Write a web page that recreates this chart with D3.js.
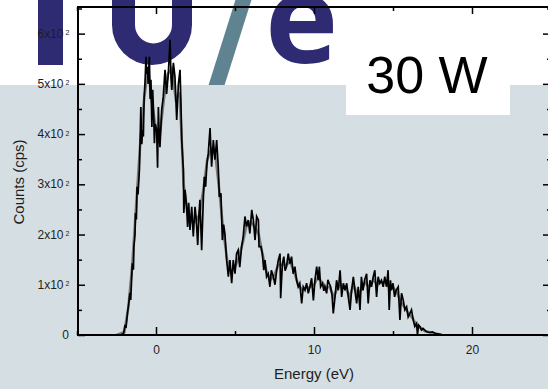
<!DOCTYPE html>
<html>
<head>
<meta charset="utf-8">
<script src="https://cdn.jsdelivr.net/npm/d3@7"></script>
<style>
    body { margin: 0; background: #fff; }
    text { font-family: "Liberation Sans", Arial, sans-serif; fill: #1e1e1e; }
</style>
</head>
<body>
<svg id="chart" width="548" height="389"></svg>
<script>
// measured spectrum (black trace)
var energy = [-2.5, -2.2, -2.05, -1.96, -1.9, -1.8, -1.72, -1.65, -1.6, -1.5, -1.43, -1.4, -1.33, -1.3, -1.24, -1.2, -1.14, -1.05,
    -0.99, -0.96, -0.9, -0.85, -0.8, -0.75, -0.7, -0.63, -0.6, -0.53, -0.5, -0.42, -0.37, -0.32, -0.26, -0.21, -0.15, -0.1, -0.05,
    0.04, 0.1, 0.15, 0.2, 0.25, 0.36, 0.46, 0.57, 0.67, 0.78, 0.89, 0.95, 1.0, 1.1, 1.2, 1.31, 1.42, 1.52, 1.58, 1.63, 1.73, 1.76,
    1.84, 1.94, 2.0, 2.07, 2.15, 2.26, 2.36, 2.47, 2.55, 2.64, 2.72, 2.78, 2.89, 3.0, 3.06, 3.14, 3.22, 3.31, 3.42, 3.52, 3.63,
    3.73, 3.84, 3.94, 4.01, 4.11, 4.2, 4.28, 4.36, 4.47, 4.58, 4.68, 4.79, 4.89, 5.0, 5.1, 5.2, 5.3, 5.42, 5.52, 5.63, 5.73, 5.84,
    5.94, 6.06, 6.16, 6.27, 6.37, 6.48, 6.52, 6.64, 6.73, 6.82, 6.9, 7.0, 7.1, 7.21, 7.3, 7.43, 7.53, 7.64, 7.74, 7.85, 7.89, 8.0,
    8.09, 8.17, 8.26, 8.37, 8.47, 8.58, 8.68, 8.79, 8.9, 9.0, 9.1, 9.22, 9.32, 9.43, 9.53, 9.64, 9.74, 9.85, 9.96, 10.06, 10.17,
    10.27, 10.34, 10.42, 10.54, 10.62, 10.69, 10.8, 10.88, 10.96, 11.05, 11.14, 11.22, 11.33, 11.43, 11.54, 11.65, 11.75, 11.86,
    11.96, 12.07, 12.17, 12.28, 12.38, 12.49, 12.59, 12.7, 12.8, 12.91, 13.0, 13.1, 13.2, 13.33, 13.43, 13.54, 13.64, 13.75,
    13.85, 13.96, 14.06, 14.16, 14.27, 14.38, 14.48, 14.59, 14.69, 14.76, 14.84, 14.9, 15.0, 15.1, 15.2, 15.33, 15.44, 15.54,
    15.65, 15.75, 15.86, 15.96, 16.07, 16.17, 16.28, 16.38, 16.49, 16.55, 16.62, 16.7, 16.8, 16.9, 17.1, 17.3, 17.5, 17.7, 18.1];
var counts = [0, 1, 3, 20, 14, 45, 64, 84, 70, 143, 130, 175, 200, 243, 230, 295, 280, 329,
    408, 454, 380, 408, 395, 474, 500, 554, 520, 534, 500, 554, 470, 508, 414, 488, 442, 382, 420,
    408, 333, 454, 400, 374, 448, 474, 528, 480, 520, 588, 510, 488, 542, 514, 428, 500, 528, 460, 388, 329, 243,
    289, 255, 215, 263, 209, 255, 196, 255, 230, 179, 240, 269, 169, 275, 315, 295, 340, 362, 412, 335, 388,
    349, 388, 335, 275, 282, 189, 220, 202, 149, 116, 149, 103, 149, 122, 162, 169, 135, 176, 196, 236, 216, 229,
    202, 249, 229, 189, 236, 229, 176, 176, 162, 129, 149, 116, 122, 96, 129, 116, 100, 129, 149, 162, 73, 142,
    156, 128, 136, 162, 142, 156, 122, 136, 109, 96, 103, 63, 96, 89, 103, 83, 96, 113, 69, 109, 136,
    109, 136, 96, 103, 88, 96, 83, 110, 103, 96, 80, 43, 76, 109, 89, 129, 76, 103,
    89, 103, 76, 50, 89, 116, 89, 63, 96, 50, 116, 89, 109, 122, 63, 109, 96, 116,
    129, 76, 116, 103, 109, 96, 116, 96, 129, 50, 109, 89, 103, 76, 89, 96, 30, 83,
    69, 50, 56, 36, 43, 50, 30, 17, 23, 0, 20, 17, 10, 13, 7, 5, 6, 3, 1];

// second (grey) trace
var energyGrey = [-2.5, -2.0, -1.75, -1.5, -1.25, -1.0, -0.75, -0.5, -0.25, 0, 0.25, 0.5, 0.75, 1.0, 1.25, 1.5, 1.75, 2.0,
    2.25, 2.5, 2.75, 3.0, 3.25, 3.5, 3.75, 4.0, 4.25, 4.5, 4.75, 5.0, 5.25, 5.5, 5.75, 6.0, 6.25, 6.5, 6.75, 7.0, 7.25, 7.5,
    7.75, 8.0, 8.25, 8.5, 8.75, 9.0, 9.25, 9.5, 9.75, 10.0, 10.25, 10.5, 10.75, 11.0, 11.25, 11.5, 11.75, 12.0, 12.25, 12.5,
    12.75, 13.0, 13.25, 13.5, 13.75, 14.0, 14.25, 14.5, 14.75, 15.0, 15.25, 15.5, 15.75, 16.0, 16.25, 16.5, 16.75, 17.0, 17.5, 18.0];
var countsGrey = [0, 6, 55, 140, 260, 380, 470, 530, 460, 410, 400, 470, 520, 530, 470, 480, 300, 240,
    225, 225, 240, 290, 350, 370, 360, 290, 210, 150, 125, 135, 155, 185, 220, 225, 215, 200, 160, 125, 110, 120,
    140, 140, 140, 145, 125, 100, 90, 95, 95, 100, 115, 105, 95, 95, 75, 95, 100, 95, 75, 100,
    80, 90, 105, 95, 110, 100, 105, 105, 95, 95, 85, 65, 55, 42, 33, 18, 14, 8, 4, 1];

var xMajor = [0, 10, 20],
    xMinor = [-5, 5, 15, 25];
var yMajor = [0, 100, 200, 300, 400, 500, 600],
    yMinor = [50, 150, 250, 350, 450, 550, 650],
    yLabels = ["0", "1x10", "2x10", "3x10", "4x10", "5x10", "6x10"];

var v = 548, h = 389;
var svg = d3.select("#chart");

// background: logo area on white, grey panel below
var logo = svg.append("g");
logo.append("rect").attr("x", 38).attr("y", -5).attr("width", 25).attr("height", 70).attr("fill", "#2e2b73");
logo.append("path")
    .attr("d", "M112,-5 V25 A40,40 0 0 0 192,25 V-5 H172 V25 A18.5,18.5 0 0 1 135,25 V-5 Z")
    .attr("fill", "#2e2b73");
logo.append("path")
    .attr("d", "M237,-5 L253,-5 L223,90 L207,90 Z")
    .attr("fill", "#5f8391");
logo.append("text")
    .attr("x", 265).attr("y", 63)
    .style("font-family", "'Open Sans', sans-serif")
    .style("font-weight", 700)
    .style("font-size", "124px")
    .style("fill", "#2e2b73")
    .text("e");

svg.append("rect").attr("x", 0).attr("y", 85).attr("width", v).attr("height", h - 85).attr("fill", "#d5dfe3");
svg.append("rect").attr("x", 346).attr("y", 80).attr("width", 164).attr("height", 35).attr("fill", "#fff");
svg.append("text")
    .attr("x", 427).attr("y", 93)
    .attr("text-anchor", "middle")
    .style("font-size", "52px")
    .style("fill", "#000")
    .text("30 W");

var m = {left: 78, right: 551, top: 7, bottom: 335};
var x = d3.scaleLinear().domain([-5, 25]).range([77, 551]),
    y = d3.scaleLinear().domain([0, 653]).range([m.bottom, m.top]);

function trace(xs, ys) {
    return xs.map(function (d, i) { return [d, ys[i]]; });
}
var line = d3.line()
    .x(function (d) { return x(d[0]); })
    .y(function (d) { return y(d[1]); });

svg.append("path")
    .datum(trace(energyGrey, countsGrey))
    .attr("d", line)
    .attr("fill", "none")
    .attr("stroke", "#7c7c7c")
    .attr("stroke-width", 2.6);

svg.append("path")
    .datum(trace(energy, counts))
    .attr("d", line)
    .attr("fill", "none")
    .attr("stroke", "#000")
    .attr("stroke-width", 1.7);

// axes, ticks pointing inward
function drawAxis(axis, pos, cls) {
    var g = svg.append("g")
        .attr("class", cls)
        .attr("transform", pos)
        .call(axis);
    g.select(".domain").remove();
    g.selectAll(".tick line").attr("stroke", "#000").attr("stroke-width", 1.5);
    return g;
}

var xb = drawAxis(d3.axisBottom(x).tickValues(xMajor).tickSize(-8).tickPadding(10), "translate(0," + m.bottom + ")", "x axis");
xb.selectAll("text").style("font-size", "12px").style("fill", "#1e1e1e").attr("font-family", null);
drawAxis(d3.axisBottom(x).tickValues(xMinor).tickSize(-4).tickFormat(""), "translate(0," + m.bottom + ")", "x minor");
drawAxis(d3.axisTop(x).tickValues(xMajor).tickSize(-7).tickFormat(""), "translate(0," + m.top + ")", "x2 axis");
drawAxis(d3.axisTop(x).tickValues(xMinor).tickSize(-4).tickFormat(""), "translate(0," + m.top + ")", "x2 minor");

drawAxis(d3.axisLeft(y).tickValues(yMajor).tickSize(-7).tickFormat(""), "translate(" + m.left + ",0)", "y axis");
drawAxis(d3.axisLeft(y).tickValues(yMinor).tickSize(-4).tickFormat(""), "translate(" + m.left + ",0)", "y minor");
drawAxis(d3.axisRight(y).tickValues(yMajor).tickSize(-8).tickFormat(""), "translate(" + m.right + ",0)", "y2 axis");
drawAxis(d3.axisRight(y).tickValues(yMinor).tickSize(-4).tickFormat(""), "translate(" + m.right + ",0)", "y2 minor");

// y labels with superscript exponent
yMajor.forEach(function (d, i) {
    var t = svg.append("text")
        .attr("y", y(d) + 4)
        .style("font-size", "12px");
    if (i === 0) {
        t.attr("x", 69).attr("text-anchor", "end").text(yLabels[i]);
    } else {
        t.attr("x", 63.5).attr("text-anchor", "end").text(yLabels[i]);
        svg.append("text")
            .attr("x", 65.5).attr("y", y(d) + 1.5)
            .style("font-size", "7px")
            .text("2");
    }
});

// frame
svg.append("rect")
    .attr("x", m.left).attr("y", m.top)
    .attr("width", m.right - m.left).attr("height", m.bottom - m.top)
    .attr("fill", "none")
    .attr("stroke", "#000")
    .attr("stroke-width", 2);

svg.append("text")
    .attr("x", x(10)).attr("y", 379)
    .attr("text-anchor", "middle")
    .style("font-size", "15px")
    .text("Energy (eV)");

svg.append("text")
    .attr("transform", "translate(24,182) rotate(-90)")
    .attr("text-anchor", "middle")
    .style("font-size", "15px")
    .text("Counts (cps)");
</script>
</body>
</html>
